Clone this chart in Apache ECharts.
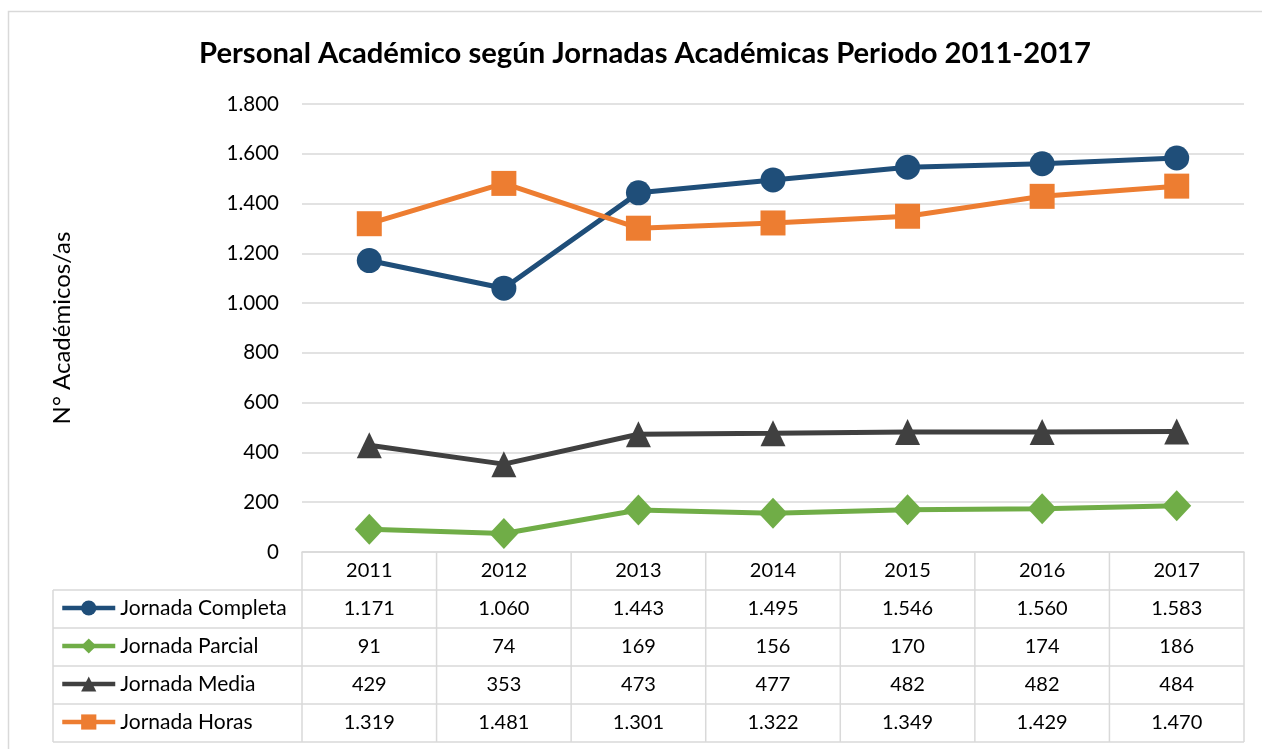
<!DOCTYPE html>
<html>
<head>
<meta charset="utf-8">
<script src="https://cdn.jsdelivr.net/npm/echarts@6/dist/echarts.min.js"></script>
<style>
html,body{margin:0;padding:0;background:#fff;}
#c{width:1262px;height:749px;}
</style>
</head>
<body>
<div id="c"></div>
<script>
const years = ['2011','2012','2013','2014','2015','2016','2017'];
const seriesNames = ['Jornada Completa','Jornada Parcial','Jornada Media','Jornada Horas'];
const completa = [1171,1060,1443,1495,1546,1560,1583];
const parcial = [91,74,169,156,170,174,186];
const media = [429,353,473,477,482,482,484];
const horas = [1319,1481,1301,1322,1349,1429,1470];
const yTicks = [0,200,400,600,800,1000,1200,1400,1600,1800];

const colors = ['#1F4E79','#70AD47','#404040','#ED7D31'];
const symbols = ['circle','diamond','triangle','rect'];
const symbolSizes = [25,[29,31],[25,26],25];
const allData = [completa, parcial, media, horas];
const FONT = 'Lato';

function fmt(v){ return String(v).replace(/\B(?=(\d{3})+(?!\d))/g,'.'); }

const GRID_TOP = 104, GRID_BOTTOM = 197, ROW_H = 38;
const axisBottomY = 749 - GRID_BOTTOM;

const chart = echarts.init(document.getElementById('c'));
const option = {
  animation:false,
  backgroundColor:'#fff',
  title:{
    text:'Personal Académico según Jornadas Académicas Periodo 2011-2017',
    left:194, top:34,
    textStyle:{fontFamily:FONT,fontWeight:'bold',fontSize:29.2,color:'#000'}
  },
  legend: seriesNames.map((n,r)=>({
    orient:'horizontal', left:60, top: axisBottomY + (r+1.5)*ROW_H - 11 - 1,
    padding:0,
    itemWidth:53, itemHeight:19,
    lineStyle:{width:4.5},
    textStyle:{fontFamily:FONT,fontSize:21,color:'#000',lineHeight:22},
    data:[n]
  })),
  grid:{left:302,right:18,top:GRID_TOP,bottom:GRID_BOTTOM,containLabel:false},
  xAxis:{
    type:'category', data:years, boundaryGap:true,
    axisLine:{show:true,lineStyle:{color:'#d9d9d9',width:1.5}},
    axisTick:{show:false},
    axisLabel:{fontFamily:FONT,fontSize:20,color:'#000',margin:9}
  },
  yAxis:{
    type:'value', min:yTicks[0], max:yTicks[yTicks.length-1], interval:200,
    name:'N° Académicos/as', nameLocation:'middle', nameGap:228, nameRotate:90,
    nameTextStyle:{fontFamily:FONT,fontSize:24,color:'#000'},
    axisLine:{show:false}, axisTick:{show:false},
    axisLabel:{fontFamily:FONT,fontSize:20.5,color:'#000',margin:23,formatter:fmt},
    splitLine:{lineStyle:{color:'#d9d9d9',width:1.5}}
  },
  series: seriesNames.map((n,i)=>({
    name:n, type:'line', data:allData[i],
    symbol:symbols[i], symbolSize:symbolSizes[i], showAllSymbol:true,
    lineStyle:{color:colors[i],width:5},
    itemStyle:{color:colors[i]},
    z: i===3?3:2
  }))
};
chart.setOption(option);

// Build data table below the plot using the axis scales
function buildTable(){
  const x0 = chart.convertToPixel({xAxisIndex:0}, years[0]);
  const x1 = chart.convertToPixel({xAxisIndex:0}, years[1]);
  const bw = x1 - x0;
  const yTop = chart.convertToPixel({yAxisIndex:0}, 0);
  const rowH = ROW_H;
  const leftEdge = 53;
  const plotLeft = x0 - bw/2;
  const plotRight = chart.convertToPixel({xAxisIndex:0}, years[years.length-1]) + bw/2;
  const nRows = seriesNames.length;
  const bottom = yTop + rowH*(nRows+1);
  const g = [];
  const lc = '#d9d9d9';
  g.push({type:'rect',shape:{x:8.5,y:11.5,width:1400,height:900},style:{fill:null,stroke:lc,lineWidth:1.5},silent:true,z:-1});
  for(let k=0;k<=years.length;k++){
    const x = plotLeft + k*bw;
    g.push({type:'line',shape:{x1:x,y1:yTop,x2:x,y2:bottom},style:{stroke:lc,lineWidth:1.5},silent:true});
  }
  g.push({type:'line',shape:{x1:leftEdge,y1:yTop+rowH,x2:leftEdge,y2:bottom},style:{stroke:lc,lineWidth:1.5},silent:true});
  for(let r=1;r<=nRows+1;r++){
    const y = yTop + r*rowH;
    g.push({type:'line',shape:{x1:leftEdge,y1:y,x2:plotRight,y2:y},style:{stroke:lc,lineWidth:1.5},silent:true});
  }
  for(let r=0;r<nRows;r++){
    const cy = yTop + (r+1.5)*rowH - 0.5;
    for(let c=0;c<years.length;c++){
      const cx = chart.convertToPixel({xAxisIndex:0}, years[c]);
      g.push({type:'text',x:cx,y:cy,style:{text:fmt(allData[r][c]),fontFamily:FONT,fontSize:20,fill:'#000',align:'center',verticalAlign:'middle'},silent:true});
    }
  }
  chart.setOption({graphic:{elements:g}});
}
buildTable();
</script>
</body>
</html>
